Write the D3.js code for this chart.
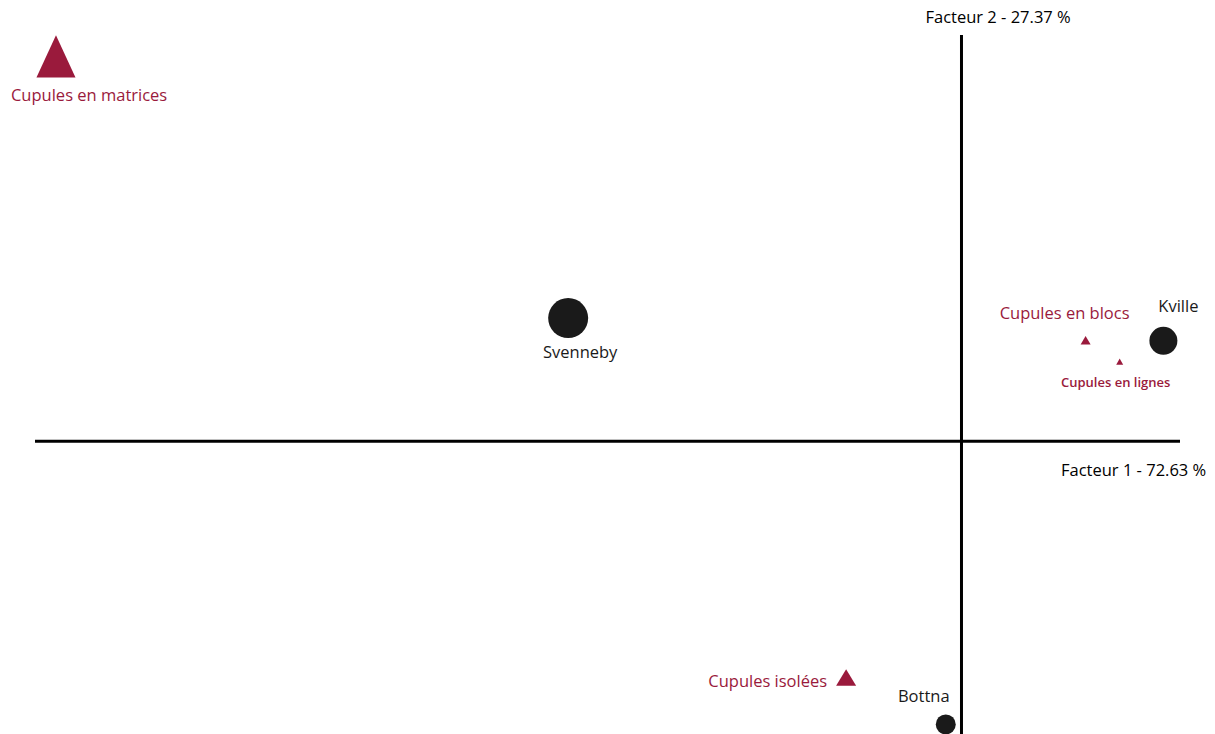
<!DOCTYPE html>
<meta charset="utf-8">
<style>
body { margin: 0; background: #fff; }
text { font-family: "Open Sans", sans-serif; font-size: 16.5px; }
.axis-line { stroke: #000; stroke-width: 3px; }
.site { fill: #1a1a1a; }
.var { fill: #9a1a3c; }
.lab-site { fill: #1a1a1a; }
.lab-var { fill: #9a1a3c; }
</style>
<body>
<svg width="1215" height="734"></svg>
</body>
<script src="https://d3js.org/d3.v7.min.js"></script>
<script>

// sites (lignes)
var sites = ["Svenneby", "Kville", "Bottna"];
var siteF1 = [-0.450, 0.231, -0.018];
var siteF2 = [0.141, 0.115, -0.324];
var siteMasse = [40, 19.6, 10];

// types de cupules (colonnes)
var types = ["Cupules en matrices", "Cupules en blocs", "Cupules en lignes", "Cupules isolées"];
var typeF1 = [-1.036, 0.142, 0.181, -0.132];
var typeF2 = [0.4325, 0.114, 0.090, -0.2735];
var typeMasse = [1521, 100, 49, 400];

var axisLabels = ["Facteur 1 - 72.63 %", "Facteur 2 - 27.37 %"];

var svg = d3.select("svg"),
    width = +svg.attr("width"),
    height = +svg.attr("height");

var x = d3.scaleLinear().domain([-1.06, 0.25]).range([35, 1180]);
var y = d3.scaleLinear().domain([0.465, -0.335]).range([35, 734]);

var rSite = d3.scaleSqrt().domain([0, 40]).range([0, 20]);
var aType = d3.scaleLinear().domain([0, 1521]).range([0, 659]);

// axes
svg.append("line").attr("class", "axis-line")
    .attr("x1", x.range()[0]).attr("x2", x.range()[1])
    .attr("y1", y(0)).attr("y2", y(0));
svg.append("line").attr("class", "axis-line")
    .attr("x1", x(0)).attr("x2", x(0))
    .attr("y1", y.range()[0]).attr("y2", y.range()[1] + 5);

svg.append("text").attr("x", 1061).attr("y", y(0) + 35).text(axisLabels[0]);
svg.append("text").attr("x", x(0) - 36).attr("y", 23).text(axisLabels[1]);

var siteData = sites.map(function(d, i) {
  return {name: d, f1: siteF1[i], f2: siteF2[i], m: siteMasse[i]};
});
var typeData = types.map(function(d, i) {
  return {name: d, f1: typeF1[i], f2: typeF2[i], m: typeMasse[i]};
});

// label offsets (dx, dy, anchor, size, weight) + vertical stretch of triangle
var siteLab = {
  "Svenneby": [12, 40, "middle", 16.5, 400],
  "Kville": [15, -29, "middle", 16.5, 400],
  "Bottna": [-22, -22, "middle", 16.5, 400]
};
var typeLab = {
  "Cupules en matrices": [-45, 38, "start", 16.5, 400, 1.25],
  "Cupules en blocs": [-21, -23, "middle", 16.5, 400, 1],
  "Cupules en lignes": [-4, 24, "middle", 13, 600, 1],
  "Cupules isolées": [-19, 7, "end", 16.5, 400, 0.95]
};

svg.append("g").selectAll("circle")
    .data(siteData).enter().append("circle")
    .attr("class", "site")
    .attr("cx", function(d) { return x(d.f1); })
    .attr("cy", function(d) { return y(d.f2); })
    .attr("r", function(d) { return rSite(d.m); });

svg.append("g").selectAll("path")
    .data(typeData).enter().append("path")
    .attr("class", "var")
    .attr("transform", function(d) {
      return "translate(" + x(d.f1) + "," + y(d.f2) + ") scale(1," + typeLab[d.name][5] + ")";
    })
    .attr("d", function(d) { return d3.symbol().type(d3.symbolTriangle).size(aType(d.m))(); });

svg.append("g").selectAll("text")
    .data(siteData).enter().append("text")
    .attr("class", "lab-site")
    .attr("x", function(d) { return x(d.f1) + siteLab[d.name][0]; })
    .attr("y", function(d) { return y(d.f2) + siteLab[d.name][1]; })
    .attr("text-anchor", function(d) { return siteLab[d.name][2]; })
    .style("font-size", function(d) { return siteLab[d.name][3] + "px"; })
    .style("font-weight", function(d) { return siteLab[d.name][4]; })
    .text(function(d) { return d.name; });

svg.append("g").selectAll("text")
    .data(typeData).enter().append("text")
    .attr("class", "lab-var")
    .attr("x", function(d) { return x(d.f1) + typeLab[d.name][0]; })
    .attr("y", function(d) { return y(d.f2) + typeLab[d.name][1]; })
    .attr("text-anchor", function(d) { return typeLab[d.name][2]; })
    .style("font-size", function(d) { return typeLab[d.name][3] + "px"; })
    .style("font-weight", function(d) { return typeLab[d.name][4]; })
    .text(function(d) { return d.name; });

</script>
